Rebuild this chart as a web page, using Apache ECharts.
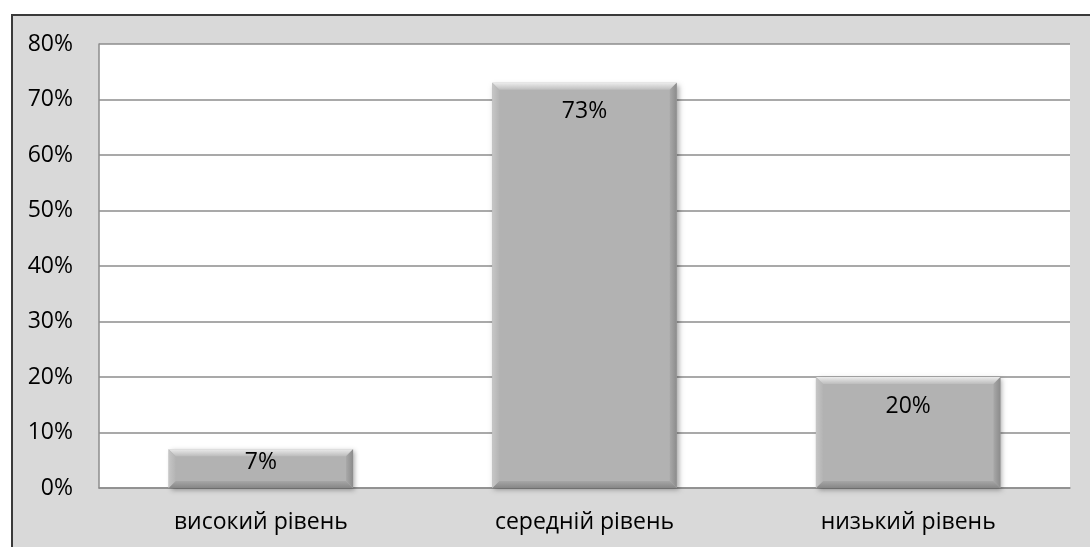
<!DOCTYPE html>
<html>
<head>
<meta charset="utf-8">
<script src="https://cdn.jsdelivr.net/npm/echarts@6/dist/echarts.min.js"></script>
<style>
  html, body { margin: 0; padding: 0; background: #ffffff; overflow: hidden; }
  #frame {
    position: absolute; left: 11px; top: 14px; width: 1200px; height: 700px;
    background: #d9d9d9; border-top: 2px solid #3a3a3a; border-left: 2px solid #3a3a3a;
  }
  #chart { position: absolute; left: 0; top: 0; width: 1090px; height: 547px; }
</style>
</head>
<body>
<div id="frame"></div>
<div id="chart"></div>
<script>
// Рівні сформованості (частка учнів, %)
const categories = ['високий рівень', 'середній рівень', 'низький рівень'];
const values = [7, 73, 20];
const yTicks = [0, 10, 20, 30, 40, 50, 60, 70, 80];

const FONT = '"Open Sans", "Noto Sans", sans-serif';
const FONT_SIZE = 23;

// Bevelled grey bar with its value label near the top edge
function renderBevelBar(params, api) {
  const idx = api.value(0);
  const v = api.value(1);
  const top = api.coord([idx, v]);
  const base = api.coord([idx, 0]);
  const w = api.size([1, 0])[0] * 0.57;
  const l = top[0] - w / 2, r = top[0] + w / 2, t = top[1], b = base[1];
  const e = 7;
  const h = b - t;
  const labelY = t + Math.min(29, h / 2 - 6);
  return {
    type: 'group',
    children: [
      { type: 'rect', shape: { x: l, y: t, width: w, height: h },
        style: { fill: '#b2b2b2', shadowBlur: 5, shadowOffsetX: 2, shadowOffsetY: 2, shadowColor: 'rgba(0,0,0,0.35)' } },
      { type: 'polygon', shape: { points: [[l, t], [r, t], [r - e, t + e], [l + e, t + e]] },
        style: { fill: { type: 'linear', x: 0, y: 0, x2: 0, y2: 1,
          colorStops: [{ offset: 0, color: '#ebebeb' }, { offset: 1, color: '#bdbdbd' }] } } },
      { type: 'polygon', shape: { points: [[l, b], [r, b], [r - e, b - e], [l + e, b - e]] },
        style: { fill: { type: 'linear', x: 0, y: 0, x2: 0, y2: 1,
          colorStops: [{ offset: 0, color: '#a6a6a6' }, { offset: 1, color: '#878787' }] } } },
      { type: 'polygon', shape: { points: [[l, t], [l + e, t + e], [l + e, b - e], [l, b]] },
        style: { fill: { type: 'linear', x: 0, y: 0, x2: 1, y2: 0,
          colorStops: [{ offset: 0, color: '#c6c6c6' }, { offset: 1, color: '#b4b4b4' }] } } },
      { type: 'polygon', shape: { points: [[r, t], [r - e, t + e], [r - e, b - e], [r, b]] },
        style: { fill: { type: 'linear', x: 0, y: 0, x2: 1, y2: 0,
          colorStops: [{ offset: 0, color: '#a8a8a8' }, { offset: 1, color: '#8b8b8b' }] } } },
      { type: 'text', style: { text: v + '%', x: top[0], y: labelY, align: 'center', verticalAlign: 'middle',
          fontSize: FONT_SIZE, fontFamily: FONT, fill: '#000000' } }
    ]
  };
}

const chart = echarts.init(document.getElementById('chart'), null, { renderer: 'canvas' });
chart.setOption({
  animation: false,
  backgroundColor: 'transparent',
  grid: { left: 99, right: 20, top: 44, bottom: 59, show: true, backgroundColor: '#ffffff', borderWidth: 0 },
  xAxis: {
    type: 'category',
    data: categories,
    axisTick: { show: false },
    axisLine: { show: true, lineStyle: { color: '#8c8c8c', width: 1.5 } },
    axisLabel: { color: '#000000', fontSize: FONT_SIZE, fontFamily: FONT, margin: 23 }
  },
  yAxis: {
    type: 'value',
    min: yTicks[0],
    max: yTicks[yTicks.length - 1],
    interval: 10,
    axisLine: { show: true, lineStyle: { color: '#8c8c8c', width: 1.5 } },
    axisTick: { show: false },
    splitLine: { show: true, lineStyle: { color: '#8c8c8c', width: 1.5 } },
    axisLabel: { color: '#000000', fontSize: FONT_SIZE, fontFamily: FONT, margin: 26,
      formatter: (val) => val + '%' }
  },
  series: [{
    type: 'custom',
    renderItem: renderBevelBar,
    data: values.map((v, i) => [i, v]),
    encode: { x: 0, y: 1 },
    clip: false
  }]
});
</script>
</body>
</html>
